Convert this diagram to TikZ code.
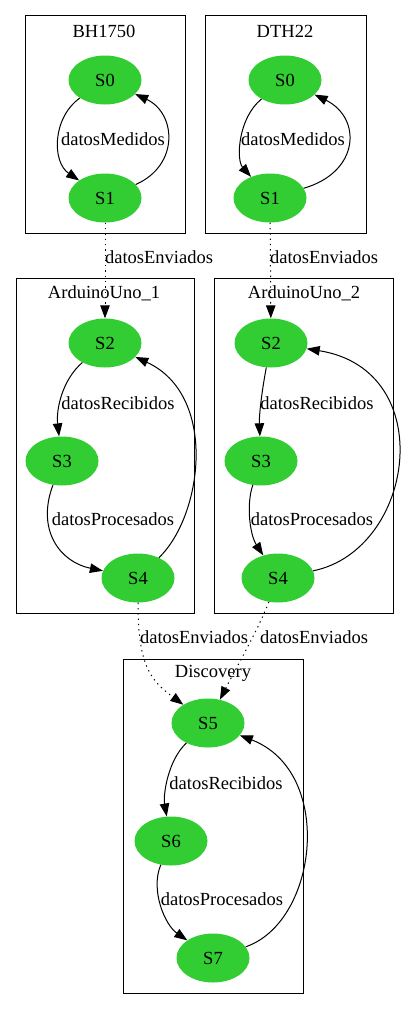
\documentclass[tikz,border=0pt]{standalone}
\usepackage{fontspec}
\setmainfont{Liberation Serif}
\usepackage{tikz}
\usetikzlibrary{positioning}
\usetikzlibrary{arrows.meta,shapes.geometric}
\definecolor{limegreen}{HTML}{32CD32}
\tikzset{
 estado/.style={ellipse,fill=limegreen,minimum width=73pt,minimum height=49pt,inner sep=0pt},
 caja/.style={draw,line width=1pt},
 flecha/.style={line width=1pt,-{Triangle[length=13pt,width=9.5pt]}},
 envio/.style={flecha,dash pattern=on 1.3pt off 4pt},
}

\begin{document}
\begin{tikzpicture}[x=1pt,y=-1pt,font=\fontsize{18.5}{22}\selectfont]
 \useasboundingbox (0,0) rectangle (409,1009);
 % clusters
 \draw[caja] (25,15) rectangle (185,233);
 \draw[caja] (205,15) rectangle (366,233);
 \draw[caja] (16,278) rectangle (194,613);
 \draw[caja] (214,278) rectangle (393,613);
 \draw[caja] (123,659) rectangle (303,993);
 \node (tbh) at (104,31) {BH1750};
 \node (tdt) at (285,31) {DTH22};
 \node (tua) at (104,293) {ArduinoUno\_1};
 \node (tub) at (304,293) {ArduinoUno\_2};
 \node (tdi) at (213,673) {Discovery};
 % states
 \node[estado] (bh0) at (105,80) {S0};
 \node[estado] (bh1) at (105,198) {S1};
 \node[estado] (dt0) at (285,80) {S0};
 \node[estado] (dt1) at (270,198) {S1};
 \node[estado] (ua2) at (105,343) {S2};
 \node[estado] (ua3) at (62,461) {S3};
 \node[estado] (ua4) at (138,578) {S4};
 \node[estado] (ub2) at (271,343) {S2};
 \node[estado] (ub3) at (261,461) {S3};
 \node[estado] (ub4) at (278,578) {S4};
 \node[estado] (d5) at (208,723) {S5};
 \node[estado] (d6) at (171,841) {S6};
 \node[estado] (d7) at (213,958) {S7};
 % sensors
 \draw[flecha] (bh0) .. controls (52,118) and (52,162) .. (bh1);
 \draw[flecha] (bh1) .. controls (180,165) and (176,113) .. (bh0);
 \node (lbh) at (113,139) {datosMedidos};
 \draw[flecha] (dt0) .. controls (238,118) and (236,160) .. (dt1);
 \draw[flecha] (dt1) .. controls (360,172) and (362,118) .. (dt0);
 \node (ldt) at (293,139) {datosMedidos};
 % arduinos
 \draw[flecha] (ua2) .. controls (62,380) and (56,410) .. (ua3);
 \draw[flecha] (ua3) .. controls (36,530) and (60,562) .. (ua4);
 \draw[flecha] (ua4) .. controls (203,515) and (218,395) .. (ua2);
 \node (lua1) at (118,403) {datosRecibidos};
 \node (lua2) at (113,519) {datosProcesados};
 \draw[flecha] (ub2) .. controls (262,390) and (259,415) .. (ub3);
 \draw[flecha] (ub3) .. controls (246,505) and (250,535) .. (ub4);
 \draw[flecha] (ub4) .. controls (415,550) and (440,370) .. (ub2);
 \node (lub1) at (317,403) {datosRecibidos};
 \node (lub2) at (312,519) {datosProcesados};
 % discovery
 \draw[flecha] (d5) .. controls (168,760) and (163,795) .. (d6);
 \draw[flecha] (d6) .. controls (150,890) and (165,925) .. (d7);
 \draw[flecha] (d7) .. controls (318,922) and (335,772) .. (d5);
 \node (ld1) at (226,783) {datosRecibidos};
 \node (ld2) at (222,899) {datosProcesados};
 % sent data
 \draw[envio] (bh1) -- (ua2);
 \draw[envio] (dt1) -- (ub2);
 \draw[envio] (ua4) .. controls (138,665) and (150,680) .. (d5);
 \draw[envio] (ub4) .. controls (258,630) and (235,670) .. (d5);
 \node (le1) at (159,257) {datosEnviados};
 \node (le2) at (324,257) {datosEnviados};
 \node (le3) at (194,637) {datosEnviados};
 \node (le4) at (314,637) {datosEnviados};
\end{tikzpicture}
\end{document}
